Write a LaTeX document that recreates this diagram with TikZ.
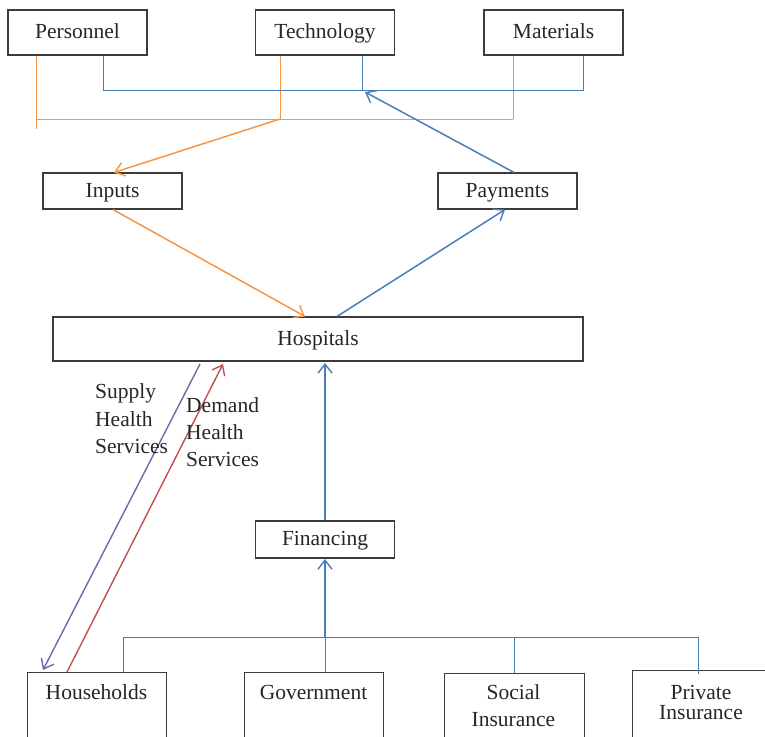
\documentclass[tikz,border=0pt]{standalone}
\usepackage{fontspec}
\setmainfont{Liberation Serif}
\usetikzlibrary{arrows.meta}
\definecolor{orng}{HTML}{F79646}
\definecolor{blu}{HTML}{4A7EBB}
\definecolor{purp}{HTML}{7B63A8}
\definecolor{redl}{HTML}{C0504D}
\definecolor{bord}{HTML}{3C3C3C}
\begin{document}
\begin{tikzpicture}[x=1pt,y=-1pt,
  font=\fontsize{21.5}{27}\selectfont,
  box/.style={draw=bord,line width=1.1pt,fill=white,inner sep=0pt,minimum width=139pt,minimum height=45pt,text=black!85,text height=15pt,text depth=3pt},
  txt/.style={inner sep=0pt,text=black!85},
  thin o/.style={draw=orng,line width=0.9pt},
  thin b/.style={draw=blu,line width=0.9pt},
  tip/.style={-{Straight Barb[length=9pt,width=14pt,line width=1.4pt]}},
  arr o/.style={draw=orng,line width=1.5pt,tip},
  arr b/.style={draw=blu,line width=1.5pt,tip},
  arr p/.style={draw=purp,line width=1.4pt,tip},
  arr r/.style={draw=redl,line width=1.4pt,tip}]
\useasboundingbox (0,0) rectangle (765,736);
\clip (0,0) rectangle (765,736);
% top boxes
\node[box] (pers) at (77.5,32.5) {Personnel};
\node[box] (tech) at (325,32.5) {Technology};
\node[box] (mat) at (553.5,32.5) {Materials};
\node[box,minimum height=36pt] (inp) at (112.5,191) {Inputs};
\node[box,minimum height=36pt] (pay) at (507.5,191) {Payments};
\node[box,minimum width=530pt,minimum height=44pt] (hosp) at (318,339) {Hospitals};
\node[box,minimum height=37pt] (fin) at (325,539.5) {Financing};
% bottom boxes (text at top, box runs past the lower edge)
\node[box,anchor=north west,minimum height=90pt] (hh) at (27,672) {};
\node[box,anchor=north west,minimum height=90pt] (gov) at (244,672) {};
\node[box,anchor=north west,minimum height=90pt,minimum width=140pt] (soc) at (444,673) {};
\node[box,anchor=north west,minimum height=90pt,minimum width=150pt] (priv) at (632,670) {};
\node[txt,anchor=base] (hht) at (96.5,699) {Households};
\node[txt,anchor=base] (govt) at (313.5,699) {Government};
\node[txt,anchor=base] (soct1) at (513.5,699) {Social};
\node[txt,anchor=base] (soct2) at (513.5,726) {Insurance};
\node[txt,anchor=base] (privt1) at (701,699) {Private};
\node[txt,anchor=base] (privt2) at (701,719) {Insurance};
% orange bus (inputs)
\coordinate (ob1) at (36,119);
\coordinate (ob2) at (280,119);
\coordinate (ob3) at (513,119);
\draw[thin o] (36,0 |- pers.south) -- (36,129);
\draw[thin o] (ob1) -- (ob3);
\draw[thin o] (280,0 |- tech.south) -- (ob2);
\draw[thin o] (513,0 |- mat.south) -- (ob3);
\draw[arr o] (ob2) -- (114,0 |- inp.north);
% blue bus (payments)
\coordinate (bb1) at (103,90);
\coordinate (bb2) at (362,90);
\coordinate (bb3) at (583,90);
\draw[thin b] (103,0 |- pers.south) -- (bb1) -- (bb3) -- (583,0 |- mat.south);
\draw[thin b] (362,0 |- tech.south) -- (bb2);
\draw[arr b] (514,0 |- pay.north) -- (365,92);
% inputs -> hospitals -> payments
\draw[arr o] (113,0 |- inp.south) -- (305,0 |- hosp.north);
\draw[arr b] (337,0 |- hosp.north) -- (505,0 |- pay.south);
% supply / demand
\draw[arr p] (200,364) -- (43,670);
\draw[arr r] (67,0 |- hh.north) -- (223,364);
\node[txt,anchor=base west] at (95,398) {Supply};
\node[txt,anchor=base west] at (95,426) {Health};
\node[txt,anchor=base west] at (95,453) {Services};
\node[txt,anchor=base west] at (186,412) {Demand};
\node[txt,anchor=base west] at (186,439) {Health};
\node[txt,anchor=base west] at (186,466) {Services};
% financing
\draw[arr b] (fin.north) -- (325,363);
\coordinate (fb) at (325,637);
\draw[arr b] (fb) -- (325,559);
\draw[thin b] (123,0 |- hh.north) -- (123,637) -- (698,637) -- (698,674);
\draw[thin b] (fb) -- (325,0 |- gov.north);
\draw[thin b] (514,637) -- (514,0 |- soc.north);
\end{tikzpicture}
\end{document}
